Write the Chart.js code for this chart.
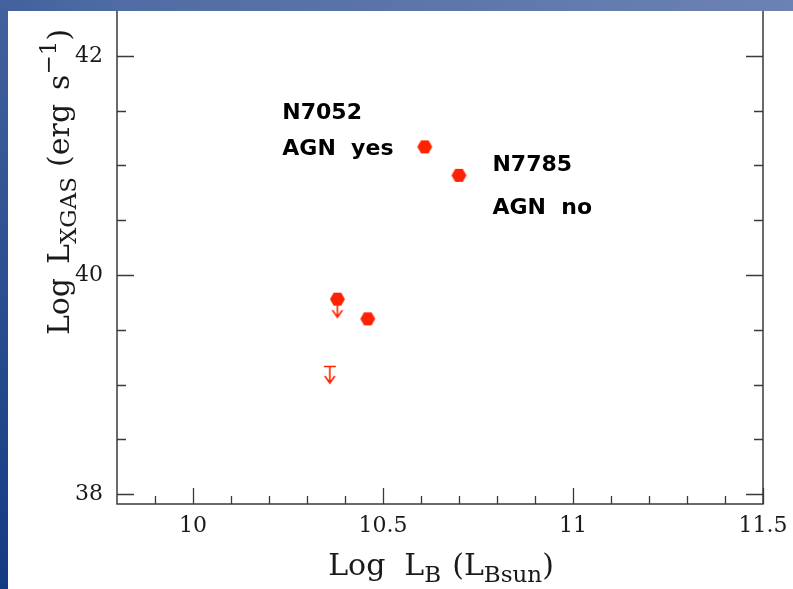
<!DOCTYPE html>
<html>
<head>
<meta charset="utf-8">
<script src="https://cdn.jsdelivr.net/npm/chart.js@4.4.1/dist/chart.umd.min.js"></script>
<style>
  html, body { margin: 0; padding: 0; background: #fff; }
  canvas { display: block; }
</style>
</head>
<body>
<canvas id="lxChart" width="793" height="589"></canvas>
<script>
// Log L_B against Log L_X(gas) for the group galaxies
const galaxyLogLB = [10.61, 10.70, 10.38, 10.46];
const galaxyLogLX = [41.17, 40.91, 39.78, 39.60];

// upper limits: the first hangs under the 10.38 detection, the second stands alone
const limitLogLB = [10.38, 10.36];
const limitLogLX = [39.78, 39.17];
const limitHasBar = [false, true];

const xTickLabels = [10, 10.5, 11, 11.5];
const xMinorTicks = [9.9, 10.1, 10.2, 10.3, 10.4, 10.6, 10.7, 10.8, 10.9, 11.1, 11.2, 11.3, 11.4];
const yTickLabels = [38, 40, 42];
const yMinorTicks = [38.5, 39, 39.5, 40.5, 41, 41.5];
const xRange = [9.8, 11.5];
const yRange = [37.91, 42.41];

const noteLabels = [['N7052', 'AGN  yes'], ['N7785', 'AGN  no']];

const RED = '#ff2200';
const INK = '#3a3a3a';
const SERIF = '"DejaVu Serif", serif';

// note anchors in axis units (left edge, baseline of each line)
const notes = [
    { x: 10.235, y: [41.425, 41.096] },
    { x: 10.788, y: [40.950, 40.557] }
];

// --- point symbols ---
function hexagon(r, color) {
    const c = document.createElement('canvas');
    c.width = c.height = Math.ceil(2 * r + 2);
    const g = c.getContext('2d');
    const m = c.width / 2;
    g.fillStyle = color;
    g.beginPath();
    for (let i = 0; i < 6; i++) {
        const a = i * Math.PI / 3;
        const px = m + r * Math.cos(a), py = m + r * Math.sin(a);
        i ? g.lineTo(px, py) : g.moveTo(px, py);
    }
    g.closePath();
    g.fill();
    return c;
}

function limitArrow(withBar, color) {
    const w = 16, h = 44, cx = 8, cy = 22;
    const c = document.createElement('canvas');
    c.width = w; c.height = h;
    const g = c.getContext('2d');
    g.strokeStyle = color;
    g.lineWidth = 1.6;
    g.beginPath();
    const start = withBar ? 0 : 4;
    const tip = withBar ? 17 : 18;
    if (withBar) { g.moveTo(cx - 6, cy + 0.5); g.lineTo(cx + 6, cy + 0.5); }
    g.moveTo(cx, cy + start);
    g.lineTo(cx, cy + tip);
    g.moveTo(cx - 5, cy + tip - 7);
    g.lineTo(cx, cy + tip);
    g.lineTo(cx + 5, cy + tip - 7);
    g.stroke();
    return c;
}

const hexSymbol = hexagon(7.5, RED);
const arrowSymbols = limitHasBar.map(b => limitArrow(b, RED));

// text run with sub/superscripts; parts are {t, size, dy} or {gap}
function richWidth(ctx, parts) {
    let w = 0;
    parts.forEach(p => {
        if (p.gap) { w += p.gap; return; }
        ctx.font = `${p.size}px ${SERIF}`;
        w += ctx.measureText(p.t).width;
    });
    return w;
}
function drawRich(ctx, parts, cx, baseline) {
    let x = cx - richWidth(ctx, parts) / 2;
    ctx.textAlign = 'left';
    ctx.textBaseline = 'alphabetic';
    parts.forEach(p => {
        if (p.gap) { x += p.gap; return; }
        ctx.font = `${p.size}px ${SERIF}`;
        ctx.fillText(p.t, x, baseline + (p.dy || 0));
        x += ctx.measureText(p.t).width;
    });
}

const xTitle = [
    { t: 'Log', size: 30 }, { gap: 19 },
    { t: 'L', size: 30 }, { t: 'B', size: 23, dy: 7 }, { gap: 11 },
    { t: '(L', size: 30 }, { t: 'Bsun', size: 23, dy: 7 }, { t: ')', size: 30 }
];
const yTitle = [
    { t: 'Log', size: 30 }, { gap: 14 },
    { t: 'L', size: 30 }, { t: 'XGAS', size: 23, dy: 7 }, { gap: 10 },
    { t: '(erg', size: 30 }, { gap: 14 },
    { t: 's', size: 30 }, { t: '\u22121', size: 23, dy: -13 }, { t: ')', size: 30 }
];

const framePlugin = {
    id: 'frame',
    beforeDraw(chart) {
        const { ctx, width, height } = chart;
        ctx.save();
        const bg = ctx.createLinearGradient(0, height, width, 0);
        bg.addColorStop(0, '#123a83');
        bg.addColorStop(0.45, '#4f6ca4');
        bg.addColorStop(1, '#6c82b2');
        ctx.fillStyle = bg;
        ctx.fillRect(0, 0, width, height);
        ctx.fillStyle = '#ffffff';
        ctx.fillRect(8, 11, width - 8, height - 11);
        ctx.restore();
    },
    beforeDatasetsDraw(chart) {
        const { ctx, chartArea: a } = chart;
        const xs = chart.scales.x, ys = chart.scales.y;
        ctx.save();
        ctx.strokeStyle = INK;
        ctx.lineWidth = 1.5;
        ctx.beginPath();
        ctx.moveTo(a.left, a.top); ctx.lineTo(a.left, a.bottom);
        ctx.lineTo(a.right, a.bottom); ctx.lineTo(a.right, a.top);
        ctx.stroke();

        // inward ticks
        ctx.lineWidth = 1.3;
        ctx.beginPath();
        const xTick = (v, len) => {
            const px = Math.round(xs.getPixelForValue(v)) + 0.5;
            ctx.moveTo(px, a.bottom); ctx.lineTo(px, a.bottom - len);
        };
        const yTick = (v, len) => {
            const py = Math.round(ys.getPixelForValue(v)) + 0.5;
            ctx.moveTo(a.left, py); ctx.lineTo(a.left + len, py);
            ctx.moveTo(a.right, py); ctx.lineTo(a.right - len, py);
        };
        xTickLabels.forEach(v => xTick(v, 16));
        xMinorTicks.forEach(v => xTick(v, 8));
        yTickLabels.forEach(v => yTick(v, 17));
        yMinorTicks.forEach(v => yTick(v, 9));
        ctx.stroke();

        // axis titles
        ctx.fillStyle = '#1a1a1a';
        drawRich(ctx, xTitle, (a.left + a.right) / 2 + 1, 575);
        ctx.save();
        ctx.translate(69, 182);
        ctx.rotate(-Math.PI / 2);
        drawRich(ctx, yTitle, 0, 0);
        ctx.restore();

        // galaxy notes
        ctx.fillStyle = '#000';
        ctx.font = 'bold 22px "DejaVu Sans", sans-serif';
        ctx.textAlign = 'left';
        ctx.textBaseline = 'alphabetic';
        notes.forEach((n, i) => {
            noteLabels[i].forEach((line, j) => {
                ctx.fillText(line, xs.getPixelForValue(n.x), ys.getPixelForValue(n.y[j]));
            });
        });
        ctx.restore();
    }
};

// keep tick labels from pushing the plot area inward
function noOverhang(s) {
    s.paddingLeft = s.paddingRight = s.paddingTop = s.paddingBottom = 0;
}

new Chart(document.getElementById('lxChart'), {
    type: 'scatter',
    data: {
        datasets: [
            {
                label: 'detections',
                data: galaxyLogLB.map((x, i) => ({ x, y: galaxyLogLX[i] })),
                pointStyle: hexSymbol
            },
            {
                label: 'upper limits',
                data: limitLogLB.map((x, i) => ({ x, y: limitLogLX[i] })),
                pointStyle: ctx => arrowSymbols[ctx.dataIndex]
            }
        ]
    },
    options: {
        responsive: false,
        animation: false,
        events: [],
        layout: { padding: { left: 0, top: 11, right: 30, bottom: 0 } },
        plugins: { legend: { display: false }, tooltip: { enabled: false } },
        scales: {
            x: {
                type: 'linear', min: xRange[0], max: xRange[1],
                afterFit: s => { s.height = 85; noOverhang(s); },
                afterBuildTicks: s => { s.ticks = xTickLabels.map(value => ({ value })); },
                grid: { display: false, drawTicks: false },
                border: { display: false },
                ticks: {
                    font: { family: 'DejaVu Serif', size: 22 }, color: '#1a1a1a',
                    padding: 9, maxRotation: 0, autoSkip: false,
                    callback: v => String(v)
                }
            },
            y: {
                type: 'linear', min: yRange[0], max: yRange[1],
                afterFit: s => { s.width = 117; noOverhang(s); },
                afterBuildTicks: s => { s.ticks = yTickLabels.map(value => ({ value })); },
                grid: { display: false, drawTicks: false },
                border: { display: false },
                ticks: {
                    font: { family: 'DejaVu Serif', size: 22 }, color: '#1a1a1a',
                    padding: 14, autoSkip: false,
                    callback: v => String(v)
                }
            }
        }
    },
    plugins: [framePlugin]
});
</script>
</body>
</html>
